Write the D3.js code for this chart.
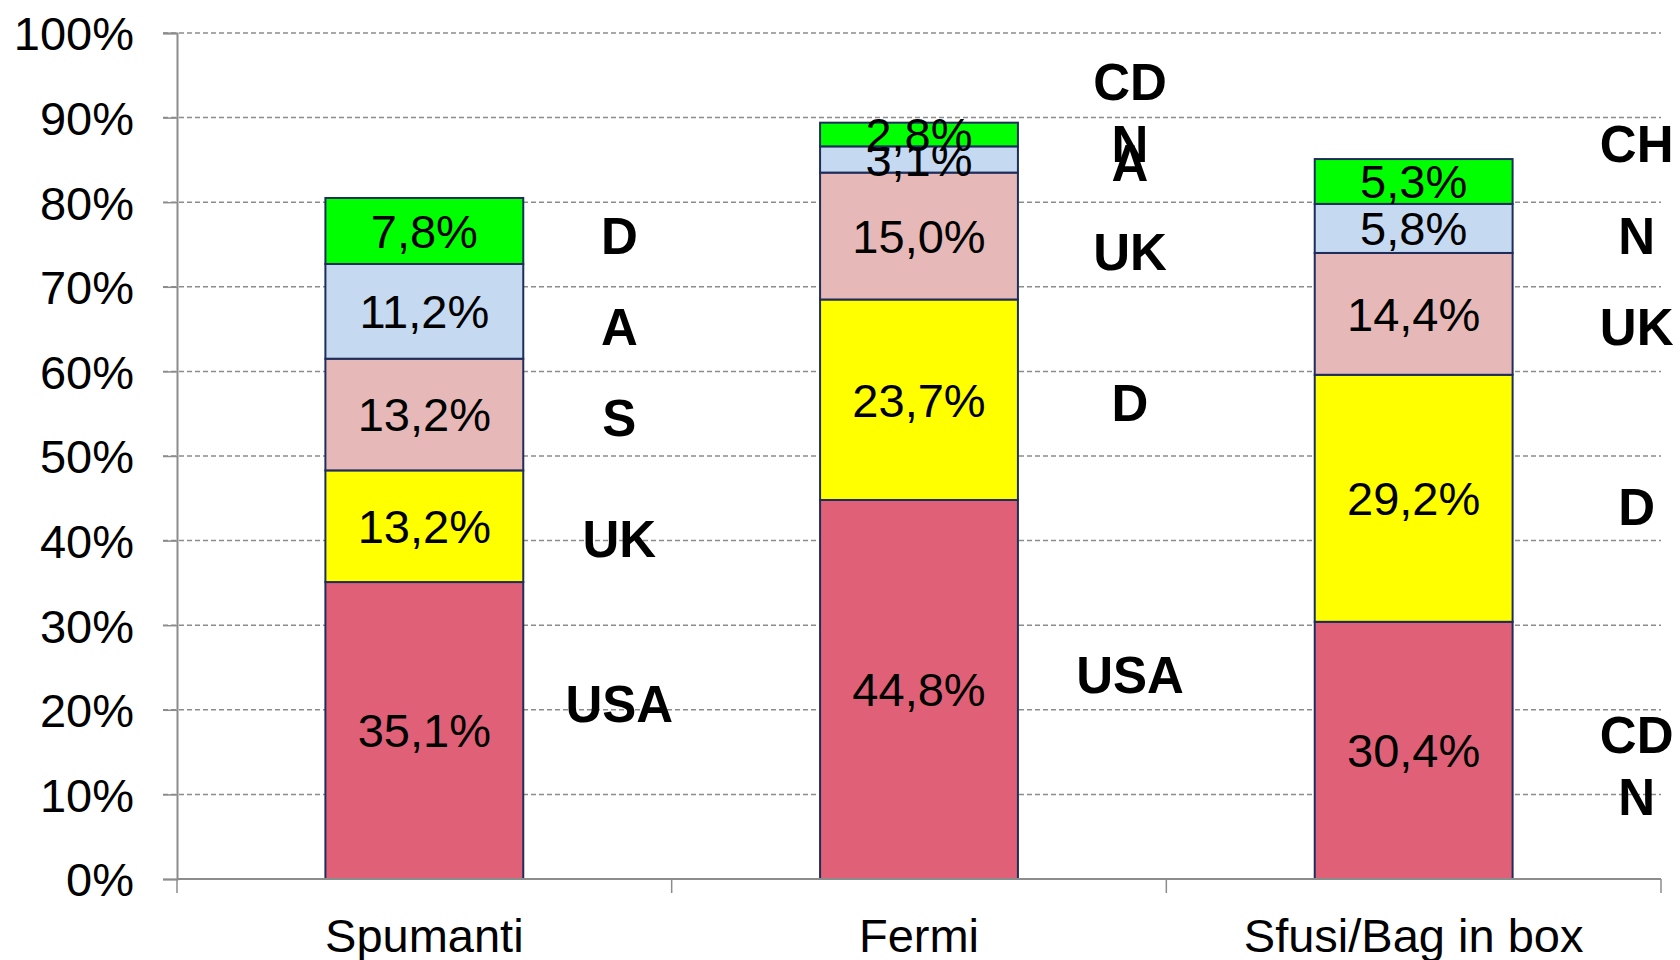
<!DOCTYPE html>
<html>
<head>
<meta charset="utf-8">
<script src="https://cdn.jsdelivr.net/npm/d3@7"></script>
<style>
  body { margin: 0; background: #fff; }
  text { font-family: "Liberation Sans", Arial, sans-serif; }
</style>
</head>
<body>
<div id="chart"></div>
<script>
// data (percent of each category)
var categories = ["Spumanti", "Fermi", "Sfusi/Bag in box"];
var slot1 = [35.1, 44.8, 30.4];   // USA, USA, CDN
var slot2 = [13.2, 23.7, 29.2];   // UK, D, D
var slot3 = [13.2, 15.0, 14.4];   // S, UK, UK
var slot4 = [11.2, 3.1, 5.8];     // A, A, N
var slot5 = [7.8, 2.8, 5.3];      // D, CDN, CH
var countries = [
  ["USA", "UK", "S", "A", "D"],
  ["USA", "D", "UK", "A", "CDN"],
  ["CDN", "D", "UK", "N", "CH"]
];
// where the country names sit, in percent (they were placed by hand)
var countryY = [
  [20.7, 40.2, 54.5, 65.3, 76.1],
  [24.1, 56.3, 74.2, 84.7, 90.5],
  [13.3, 44.0, 65.3, 76.1, 86.9]
];
var yTicks = [0, 10, 20, 30, 40, 50, 60, 70, 80, 90, 100];
var colors = ["#E06077", "#FFFF00", "#E6B8B7", "#C5D9F1", "#00FF00"];

// set the dimensions and margins of the graph
var margin = {top: 33, right: 19, bottom: 81, left: 177},
    width = 1680 - margin.left - margin.right,
    height = 960 - margin.top - margin.bottom;

var svg = d3.select("#chart")
  .append("svg")
    .attr("width", 1680)
    .attr("height", 960)
  .append("g")
    .attr("transform", "translate(" + margin.left + "," + margin.top + ")");

var x = d3.scaleBand()
  .domain(categories)
  .range([0, width])
  .paddingInner(0.6)
  .paddingOuter(0.3);

var band = width / categories.length;

var y = d3.scaleLinear()
  .domain([0, 100])
  .range([height, 0]);

// comma decimal like the original
var fmt = d3.formatLocale({decimal: ",", thousands: ".", grouping: [3], currency: ["", "€"]}).format(".1f");

// dashed gridlines
svg.append("g")
  .selectAll("line")
  .data(yTicks.filter(function(d) { return d > 0; }))
  .enter()
  .append("line")
    .attr("x1", -14)
    .attr("x2", width)
    .attr("y1", function(d) { return y(d); })
    .attr("y2", function(d) { return y(d); })
    .attr("stroke", "#8c8c8c")
    .attr("stroke-width", 1.5)
    .attr("stroke-dasharray", "5,3");

// Y axis
var yAxis = svg.append("g")
  .call(d3.axisLeft(y).tickValues(yTicks).tickSize(14).tickFormat(function(d) { return d + "%"; }));
yAxis.select(".domain").attr("stroke", "#8c8c8c").attr("stroke-width", 2);
yAxis.selectAll(".tick line").attr("stroke", "#8c8c8c").attr("stroke-width", 1.5);
yAxis.selectAll(".tick text")
  .attr("x", -43)
  .attr("dy", "0.36em")
  .style("font-size", "47px")
  .style("font-family", "'Liberation Sans', Arial, sans-serif")
  .attr("fill", "#000");

// stack the series
var rows = categories.map(function(c, i) {
  return {cat: c, s0: slot1[i], s1: slot2[i], s2: slot3[i], s3: slot4[i], s4: slot5[i]};
});
var keys = ["s0", "s1", "s2", "s3", "s4"];
var stacked = d3.stack().keys(keys)(rows);

var layers = svg.append("g")
  .selectAll("g")
  .data(stacked)
  .enter()
  .append("g")
    .attr("fill", function(d, i) { return colors[i]; });

layers.selectAll("rect")
  .data(function(d) { return d; })
  .enter()
  .append("rect")
    .attr("x", function(d) { return x(d.data.cat); })
    .attr("y", function(d) { return y(d[1]); })
    .attr("width", x.bandwidth())
    .attr("height", function(d) { return y(d[0]) - y(d[1]); })
    .attr("stroke", "#1F2D5A")
    .attr("stroke-width", 2);

// value labels in the middle of each segment
layers.selectAll("text")
  .data(function(d) { return d.map(function(p) { return {p: p, key: d.key}; }); })
  .enter()
  .append("text")
    .attr("x", function(d) { return x(d.p.data.cat) + x.bandwidth() / 2; })
    .attr("y", function(d) { return y((d.p[0] + d.p[1]) / 2); })
    .attr("dy", "0.36em")
    .attr("text-anchor", "middle")
    .attr("fill", "#000")
    .style("font-size", "47px")
    .text(function(d) { return fmt(d.p.data[d.key]) + "%"; });

// X axis: baseline plus ticks at band borders
svg.append("line")
  .attr("x1", 0).attr("x2", width)
  .attr("y1", height).attr("y2", height)
  .attr("stroke", "#8c8c8c")
  .attr("stroke-width", 2);
svg.append("g")
  .selectAll("line")
  .data(d3.range(categories.length + 1))
  .enter()
  .append("line")
    .attr("x1", function(d) { return d * band; })
    .attr("x2", function(d) { return d * band; })
    .attr("y1", height)
    .attr("y2", height + 14)
    .attr("stroke", "#8c8c8c")
    .attr("stroke-width", 1.5);
svg.append("g")
  .selectAll("text")
  .data(categories)
  .enter()
  .append("text")
    .attr("x", function(d) { return x(d) + x.bandwidth() / 2; })
    .attr("y", height + 73)
    .attr("text-anchor", "middle")
    .attr("fill", "#000")
    .style("font-size", "47px")
    .text(function(d) { return d; });

// country names next to each bar
var labelShift = [195, 211, 223];
categories.forEach(function(c, i) {
  var cx = x(c) + x.bandwidth() / 2 + labelShift[i];
  countries[i].forEach(function(name, j) {
    var t = svg.append("text")
      .attr("x", cx)
      .attr("y", y(countryY[i][j]))
      .attr("text-anchor", "middle")
      .attr("fill", "#000")
      .style("font-size", "51px")
      .style("font-weight", "bold");
    if (name == "CDN") {
      // wraps onto two lines in the original
      t.append("tspan").attr("x", cx).attr("dy", "-0.27em").text("CD");
      t.append("tspan").attr("x", cx).attr("dy", "1.23em").text("N");
    } else {
      t.attr("dy", "0.36em").text(name);
    }
  });
});
</script>
</body>
</html>
